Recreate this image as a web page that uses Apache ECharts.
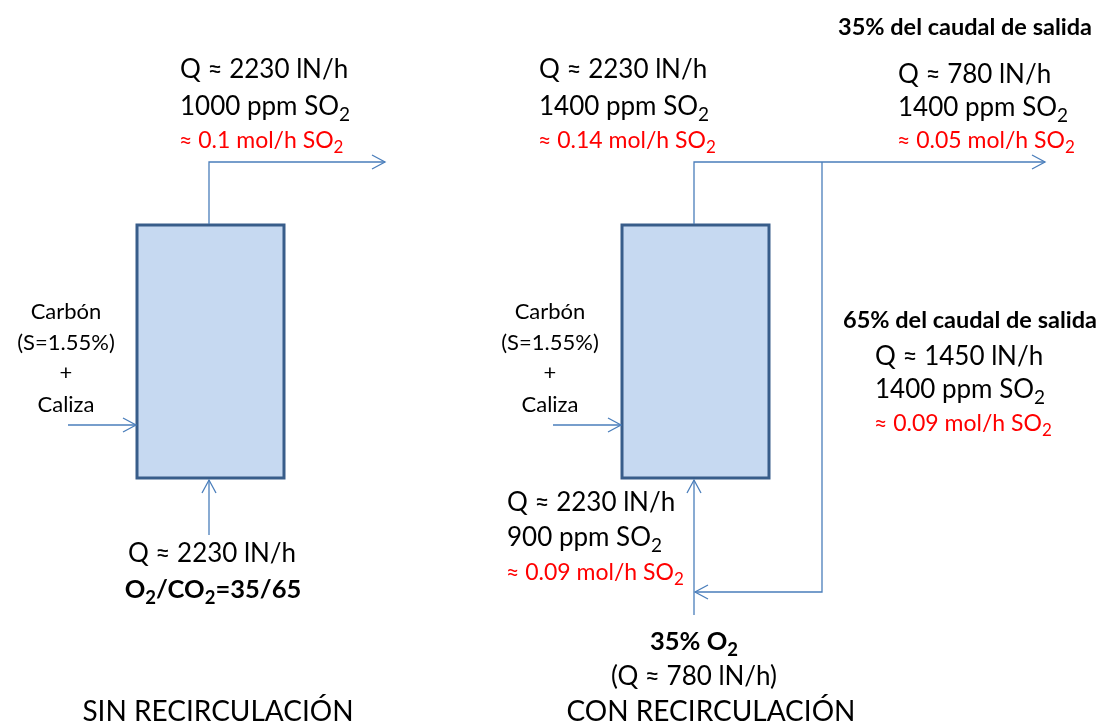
<!DOCTYPE html>
<html><head><meta charset="utf-8">
<script src="https://cdn.jsdelivr.net/npm/echarts@6/dist/echarts.min.js"></script>
<style>html,body{margin:0;padding:0;background:#fff}#c{width:1103px;height:726px}</style>
</head><body><div id="c"></div>
<script>
// Diagram space: x 0..1103 (left→right), y 0..726 (top→bottom)
const vessels = [
  [137, 225, 284, 478],
  [622, 225, 769, 478]
];
// flow streams: polyline points; arrow at last point
const streams = [
  [[209, 224], [209, 162], [385, 162]],
  [[68, 425], [136, 425]],
  [[209, 535], [209, 480]],
  [[694, 224], [694, 162], [1045, 162]],
  [[822, 162], [822, 592], [695, 592]],
  [[694, 615], [694, 480]],
  [[553, 425], [621, 425]]
];
// labels: [x, y, align, text]
const flowLabels = [
  [180, 70, 'left', '{q|Q ≈ 2230 lN/h}'],
  [180, 107, 'left', '{q|1000 ppm SO}{qs|2}'],
  [179, 141, 'left', '{r|≈ 0.1 mol/h SO}{rs|2}'],
  [539, 70, 'left', '{q|Q ≈ 2230 lN/h}'],
  [539, 107, 'left', '{q|1400 ppm SO}{qs|2}'],
  [538, 141, 'left', '{r|≈ 0.14 mol/h SO}{rs|2}'],
  [898, 75, 'left', '{q|Q ≈ 780 lN/h}'],
  [898, 108, 'left', '{q|1400 ppm SO}{qs|2}'],
  [897, 141, 'left', '{r|≈ 0.05 mol/h SO}{rs|2}'],
  [875, 357, 'left', '{q|Q ≈ 1450 lN/h}'],
  [875, 390, 'left', '{q|1400 ppm SO}{qs|2}'],
  [874, 424, 'left', '{r|≈ 0.09 mol/h SO}{rs|2}'],
  [507, 503, 'left', '{q|Q ≈ 2230 lN/h}'],
  [507, 538, 'left', '{q|900 ppm SO}{qs|2}'],
  [506, 573, 'left', '{r|≈ 0.09 mol/h SO}{rs|2}'],
  [212, 554, 'center', '{q|Q ≈ 2230 lN/h}'],
  [213, 590, 'center', '{bb|O}{bs|2}{bb|/CO}{bs|2}{bb|=35/65}'],
  [694, 642, 'center', '{bb|35% O}{bs|2}'],
  [694, 677, 'center', '{q|(Q ≈ 780 lN/h)}']
];
const headerLabels = [
  [965, 27, 'center', '{h|35% del caudal de salida}'],
  [970, 320, 'center', '{h|65% del caudal de salida}']
];
const feedLabels = [
  [66, 312, 'center', '{c|Carbón}'],
  [66, 343, 'center', '{c|(S=1.55%)}'],
  [66, 373, 'center', '{c|+}'],
  [66, 405, 'center', '{c|Caliza}'],
  [550, 312, 'center', '{c|Carbón}'],
  [550, 343, 'center', '{c|(S=1.55%)}'],
  [550, 373, 'center', '{c|+}'],
  [550, 405, 'center', '{c|Caliza}']
];
const titleLabels = [
  [218, 712, 'center', '{t|SIN RECIRCULACIÓN}'],
  [711, 712, 'center', '{t|CON RECIRCULACIÓN}']
];

const FONT = 'Lato, "Open Sans", sans-serif';
const RED = '#ff0000';
const rich = {
  q: {fontFamily: FONT, fontSize: 26, fill: '#000', lineHeight: 46},
  qs: {fontFamily: FONT, fontSize: 19, fill: '#000', padding: [16, 0, 0, 0]},
  r: {fontFamily: FONT, fontSize: 23, fill: RED, lineHeight: 42},
  rs: {fontFamily: FONT, fontSize: 17, fill: RED, padding: [14, 0, 0, 0]},
  bb: {fontFamily: FONT, fontSize: 25.5, fontWeight: 'bold', fill: '#000', lineHeight: 46},
  bs: {fontFamily: FONT, fontSize: 18.5, fontWeight: 'bold', fill: '#000', padding: [16, 0, 0, 0]},
  h: {fontFamily: FONT, fontSize: 23.5, fontWeight: 'bold', fill: '#000'},
  c: {fontFamily: FONT, fontSize: 22, fill: '#000'},
  t: {fontFamily: FONT, fontSize: 28, fill: '#000'}
};
const allLabels = flowLabels.concat(headerLabels, feedLabels, titleLabels);

const chart = echarts.init(document.getElementById('c'), null, {renderer: 'canvas'});
const LINE = '#4a7ebb';
chart.setOption({
  animation: false,
  backgroundColor: '#fff',
  grid: {left: 0, right: 0, top: 0, bottom: 0},
  xAxis: {type: 'value', min: 0, max: 1103, show: false},
  yAxis: {type: 'value', min: 0, max: 726, inverse: true, show: false},
  series: [
    {
      type: 'custom', z: 2,
      data: vessels,
      renderItem: function (params, api) {
        const p0 = api.coord([api.value(0), api.value(1)]);
        const p1 = api.coord([api.value(2), api.value(3)]);
        return {type: 'rect', shape: {x: p0[0], y: p0[1], width: p1[0] - p0[0], height: p1[1] - p0[1]},
          style: {fill: '#c6d9f1', stroke: '#385d8a', lineWidth: 3}};
      }
    },
    {
      type: 'custom', z: 3,
      data: streams.map((s, i) => [i]),
      renderItem: function (params, api) {
        const pts = streams[api.value(0)].map(p => api.coord(p));
        const n = pts.length;
        const tip = pts[n - 1], prev = pts[n - 2];
        const dx = tip[0] - prev[0], dy = tip[1] - prev[1];
        const len = Math.sqrt(dx * dx + dy * dy);
        const ux = dx / len, uy = dy / len;
        const L = 13, W = 7;
        const a1 = [tip[0] - L * ux - W * uy, tip[1] - L * uy + W * ux];
        const a2 = [tip[0] - L * ux + W * uy, tip[1] - L * uy - W * ux];
        return {type: 'group', children: [
          {type: 'polyline', shape: {points: pts}, style: {fill: null, stroke: LINE, lineWidth: 1.3}},
          {type: 'polyline', shape: {points: [a1, tip, a2]}, style: {fill: null, stroke: LINE, lineWidth: 1.3}}
        ]};
      }
    },
    {
      type: 'custom', z: 4,
      data: allLabels.map((l, i) => [l[0], l[1], i]),
      renderItem: function (params, api) {
        const l = allLabels[api.value(2)];
        const p = api.coord([api.value(0), api.value(1)]);
        return {type: 'text', x: p[0], y: p[1],
          style: {text: l[3], rich: rich, align: l[2], verticalAlign: 'middle', fill: '#000'}};
      }
    }
  ]
});
</script></body></html>
